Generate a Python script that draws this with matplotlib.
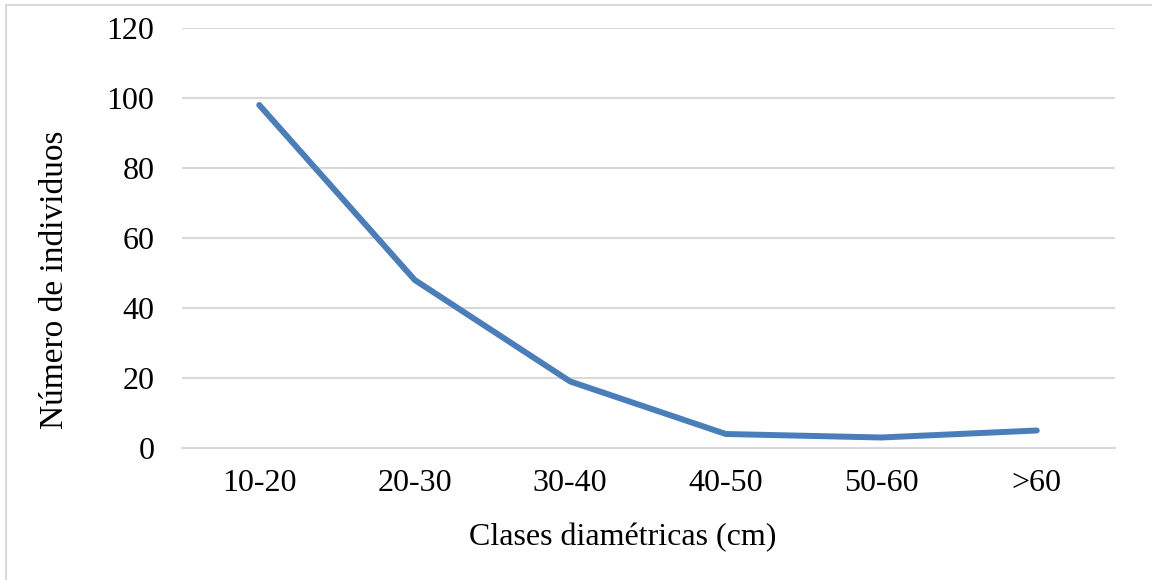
import matplotlib
matplotlib.use("Agg")
import matplotlib.pyplot as plt
from matplotlib.lines import Line2D

categories = ["10-20", "20-30", "30-40", "40-50", "50-60", ">60"]
values = [98, 48, 19, 4, 3, 5]
yticks = [0, 20, 40, 60, 80, 100, 120]

plt.rcParams['font.family'] = ['Liberation Serif', 'DejaVu Serif']

W, H = 1152, 580
fig = plt.figure(figsize=(W/100, H/100), dpi=100)
ax = fig.add_axes([181.5/W, 1-448/H, (1114.5-181.5)/W, 420/H])

x = list(range(len(categories)))
ax.plot(x, values, color='#4A7EBB', lw=4.3, solid_capstyle='round', solid_joinstyle='round', zorder=3)

ax.set_xlim(-0.5, len(categories) - 0.5)
ax.set_ylim(0, 120)
ax.set_yticks(yticks)
ax.set_xticks(x)
ax.set_xticklabels(categories)
ax.grid(axis='y', color='#D9D9D9', lw=1.5)
ax.set_axisbelow(True)
for s in ['top', 'right', 'left']:
    ax.spines[s].set_visible(False)
ax.spines['bottom'].set_color('#D9D9D9')
ax.spines['bottom'].set_linewidth(1.5)
ax.tick_params(axis='both', length=0, labelsize=23, colors='black')
ax.tick_params(axis='y', pad=19.5)
ax.tick_params(axis='x', pad=15)

fig.text(55/W, 1-280/H, 'Número de individuos', fontsize=24, rotation=90, ha='center', va='center')
fig.text(623/W, 1-538/H, 'Clases diamétricas (cm)', fontsize=23, ha='center', va='center')

fig.add_artist(Line2D([5.5/W, 5.5/W], [0, 1-4.5/H], transform=fig.transFigure, color='#D9D9D9', lw=1.5))
fig.add_artist(Line2D([5.5/W, 1], [1-4.5/H, 1-4.5/H], transform=fig.transFigure, color='#D9D9D9', lw=1.5))

fig.savefig('out.png', dpi=100)
